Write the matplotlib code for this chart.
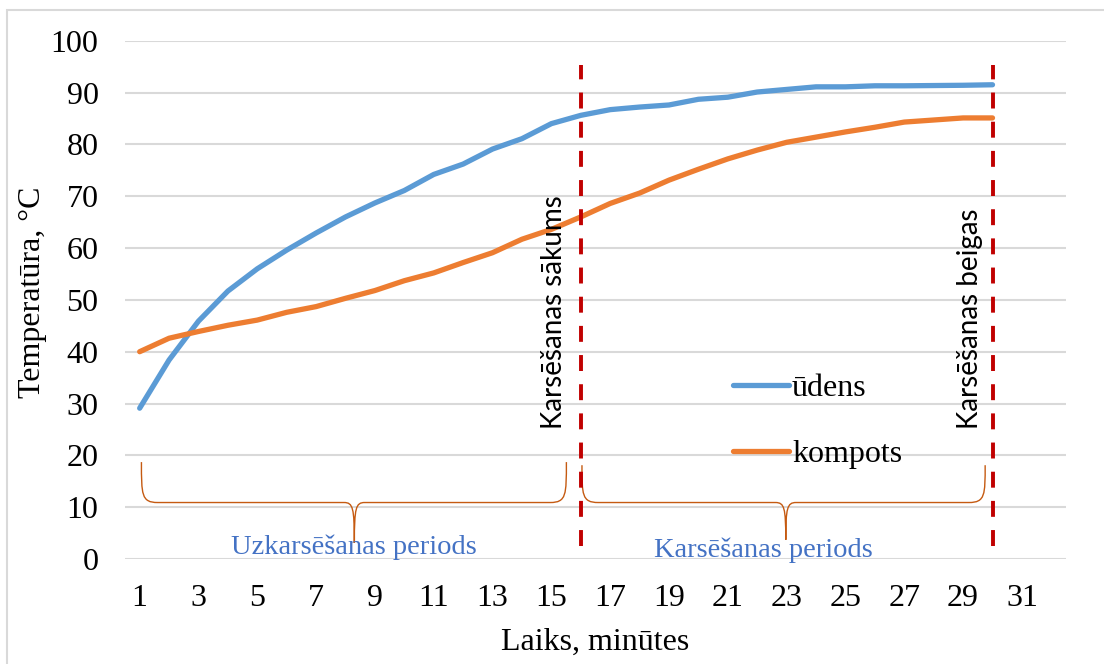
import matplotlib
matplotlib.use("Agg")
import matplotlib.pyplot as plt
from matplotlib.path import Path
from matplotlib.patches import PathPatch, Rectangle

plt.rcParams["font.family"] = ["Liberation Serif", "DejaVu Serif"]

# data
minutes = list(range(1, 31))
udens = [29.1, 38.4, 45.9, 51.7, 56.0, 59.6, 62.9, 66.0, 68.7, 71.1,
         74.2, 76.2, 79.1, 81.1, 84.0, 85.6, 86.7, 87.2, 87.6, 88.7,
         89.1, 90.1, 90.6, 91.1, 91.1, 91.3, 91.3, 91.35, 91.4, 91.5]
kompots = [40.0, 42.6, 43.9, 45.1, 46.1, 47.6, 48.7, 50.3, 51.8, 53.7,
           55.2, 57.2, 59.1, 61.7, 63.6, 66.0, 68.6, 70.6, 73.1, 75.2,
           77.2, 78.9, 80.4, 81.4, 82.4, 83.3, 84.3, 84.7, 85.1, 85.1]
x_ticks = list(range(1, 32, 2))
y_ticks = list(range(0, 101, 10))
heat_start = 16
heat_end = 30

BLUE = "#5B9BD5"
ORANGE = "#ED7D31"
RED = "#C00000"
BRACE = "#C55A11"
TXT_BLUE = "#4472C4"
GRID = "#D9D9D9"


def brace(ax, x0, x1, xtip, ytop, yh, ytip):
    # downward curly brace in data coords
    d = 0.55
    t = 0.35
    verts = [
        (x0, ytop),
        (x0, yh + 1.5), (x0, yh), (x0 + d, yh),
        (xtip - t, yh),
        (xtip - 0.05, yh), (xtip, yh - 1.0), (xtip, ytip),
        (xtip, yh - 1.0), (xtip + 0.05, yh), (xtip + t, yh),
        (x1 - d, yh),
        (x1, yh), (x1, yh + 1.5), (x1, ytop),
    ]
    codes = [Path.MOVETO,
             Path.CURVE4, Path.CURVE4, Path.CURVE4,
             Path.LINETO,
             Path.CURVE4, Path.CURVE4, Path.CURVE4,
             Path.CURVE4, Path.CURVE4, Path.CURVE4,
             Path.LINETO,
             Path.CURVE4, Path.CURVE4, Path.CURVE4]
    ax.add_patch(PathPatch(Path(verts, codes), fill=False, edgecolor=BRACE,
                           linewidth=1.0, zorder=3))


fig = plt.figure(figsize=(11.04, 6.64), dpi=100)
ax = fig.add_axes([0.1132, 0.1581, 0.8524, 0.7806])

# outer chart border (cut off at right/bottom in the original)
fig.add_artist(Rectangle((7 / 1104, -0.1), 1.2, 1.1 - 10 / 664,
                         transform=fig.transFigure, fill=False,
                         edgecolor=GRID, linewidth=1.5, clip_on=False))

ax.plot(minutes, udens, color=BLUE, linewidth=3.8, solid_capstyle="round",
        solid_joinstyle="round", label="ūdens", zorder=4)
ax.plot(minutes, kompots, color=ORANGE, linewidth=3.8, solid_capstyle="round",
        solid_joinstyle="round", label="kompots", zorder=4)

for xv in (heat_start, heat_end):
    ax.plot([xv, xv], [2.5, 95.4], color=RED, linewidth=2.8,
            dashes=(4.1, 3.4), zorder=5)

ax.text(15.1, 25, "Karsēšanas sākums", rotation=90, ha="center", va="bottom",
        fontsize=20, family=["Lato", "DejaVu Sans"], color="black", zorder=6)
ax.text(29.23, 25, "Karsēšanas beigas", rotation=90, ha="center", va="bottom",
        fontsize=20, family=["Lato", "DejaVu Sans"], color="black", zorder=6)

brace(ax, 1.06, 15.51, 8.30, 18.7, 10.9, 3.1)
brace(ax, 16.04, 29.75, 22.97, 18.1, 10.9, 3.7)

ax.text(8.3, 2.2, "Uzkarsēšanas periods", ha="center", va="center",
        fontsize=20.5, color=TXT_BLUE, zorder=6)
ax.text(22.2, 1.6, "Karsēšanas periods", ha="center", va="center",
        fontsize=20.5, color=TXT_BLUE, zorder=6)

ax.set_xlim(0.5, 32.5)
ax.set_ylim(0, 100)
ax.set_xticks(x_ticks)
ax.set_yticks(y_ticks)
ax.tick_params(axis="both", length=0, labelsize=23)
ax.tick_params(axis="x", pad=18)
ax.tick_params(axis="y", pad=19)
ax.grid(axis="y", color=GRID, linewidth=1.5)
ax.set_axisbelow(True)
for s in ax.spines.values():
    s.set_visible(False)

ax.set_xlabel("Laiks, minūtes", fontsize=23)
ax.set_ylabel("Temperatūra, °C", fontsize=23)
ax.xaxis.set_label_coords(0.4995, -0.133)
ax.yaxis.set_label_coords(-0.083, 0.515)

leg = ax.legend(loc="upper left", bbox_to_anchor=(733 / 1104, 1 - 374 / 664),
                bbox_transform=fig.transFigure, frameon=False, fontsize=23,
                handlelength=1.75, handletextpad=0.1, labelspacing=1.15,
                borderpad=0, borderaxespad=0)

fig.savefig("out.png", dpi=100)
